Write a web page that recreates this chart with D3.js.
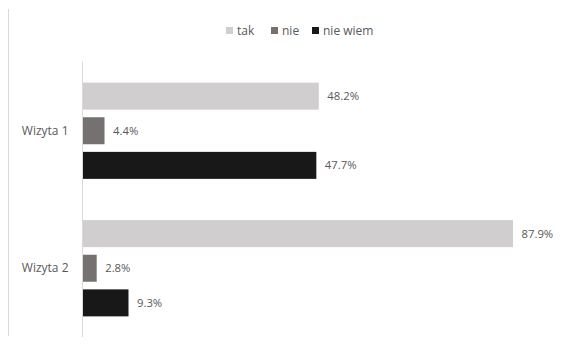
<!DOCTYPE html>
<html>
<head>
<meta charset="utf-8">
<script src="https://cdn.jsdelivr.net/npm/d3@7"></script>
<style>
  body { margin: 0; background: #fff; }
  svg { display: block; font-family: "Open Sans", sans-serif; }
</style>
</head>
<body>
<div id="chart"></div>
<script>
const categories = ["Wizyta 1", "Wizyta 2"];
const seriesNames = ["tak", "nie", "nie wiem"];
const seriesColors = ["#d0cece", "#767171", "#181818"];
const tak = [48.2, 87.9];
const nie = [4.4, 2.8];
const nieWiem = [47.7, 9.3];

const seriesValues = [tak, nie, nieWiem];

const width = 561, height = 346;
const plot = { left: 83, right: 513, top: 62, bottom: 337 };

const svg = d3.select("#chart").append("svg")
  .attr("width", width)
  .attr("height", height);

// outer frame edge
svg.append("line")
  .attr("x1", 8.5).attr("x2", 8.5)
  .attr("y1", 9).attr("y2", 336)
  .attr("stroke", "#d9d9d9");

const x = d3.scaleLinear()
  .domain([0, 87.9])
  .range([plot.left, plot.right]);

const y0 = d3.scaleBand()
  .domain(categories)
  .range([plot.top, plot.bottom])
  .paddingInner(0.3)
  .paddingOuter(0.15);

const y1 = d3.scaleBand()
  .domain(seriesNames)
  .range([0, y0.bandwidth()])
  .paddingInner(0.22);

const rows = [];
categories.forEach((c, ci) => {
  seriesNames.forEach((s, si) => {
    rows.push({ cat: c, series: s, value: seriesValues[si][ci], color: seriesColors[si] });
  });
});

svg.selectAll("rect.bar")
  .data(rows)
  .enter()
  .append("rect")
  .attr("class", "bar")
  .attr("x", x(0))
  .attr("y", d => y0(d.cat) + y1(d.series))
  .attr("width", d => x(d.value) - x(0))
  .attr("height", y1.bandwidth())
  .attr("fill", d => d.color);

svg.selectAll("text.val")
  .data(rows)
  .enter()
  .append("text")
  .attr("class", "val")
  .attr("x", d => x(d.value) + 8.5)
  .attr("y", d => y0(d.cat) + y1(d.series) + y1.bandwidth() / 2)
  .attr("dy", "0.36em")
  .attr("fill", "#595959")
  .style("font-size", "11.3px")
  .text(d => d.value.toFixed(1) + "%");

// category axis
svg.append("g")
  .attr("transform", `translate(${plot.left - 0.5},0)`)
  .call(d3.axisLeft(y0).tickSize(0).tickPadding(14))
  .call(g => g.select("path").attr("stroke", "#d9d9d9").attr("d", `M0,${plot.top}V${plot.bottom}`))
  .call(g => g.selectAll("text").attr("fill", "#595959").style("font-size", "12px").style("font-family", "Open Sans, sans-serif"));

// legend
const legendX = [226, 271, 312];
const legend = svg.append("g");
seriesNames.forEach((s, i) => {
  legend.append("rect")
    .attr("x", legendX[i])
    .attr("y", 27)
    .attr("width", 7)
    .attr("height", 7)
    .attr("fill", seriesColors[i]);
  legend.append("text")
    .attr("x", legendX[i] + 11)
    .attr("y", 35)
    .attr("fill", "#595959")
    .style("font-size", "12px")
    .text(s);
});
</script>
</body>
</html>
